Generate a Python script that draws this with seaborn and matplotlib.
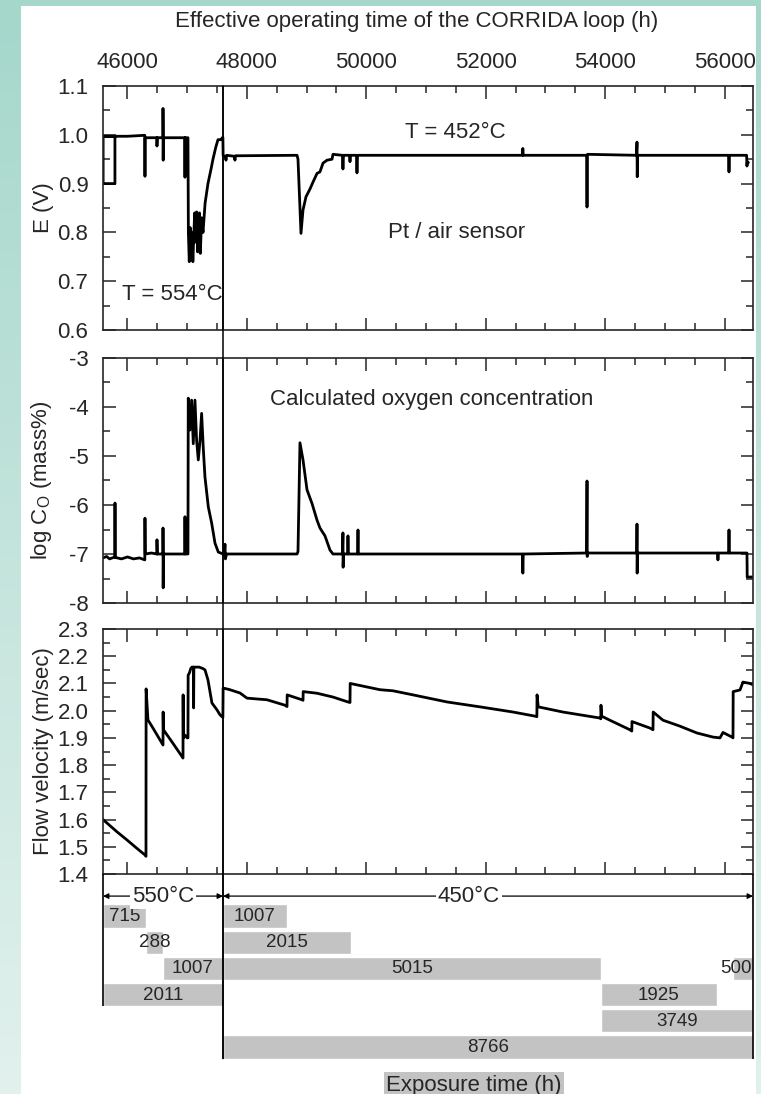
import matplotlib
matplotlib.use('Agg')
import matplotlib.pyplot as plt
import numpy as np
import seaborn as sns
from matplotlib.patches import Rectangle, ConnectionPatch
from matplotlib.colors import LinearSegmentedColormap
from matplotlib.ticker import MultipleLocator, FormatStrFormatter

# ---- data (operating time in h) ----
e_time = [45590, 45790, 45790, 45592, 45592, 45790, 46000, 46150, 46290, 46293, 46296,
          46494, 46494, 46497, 46595, 46595, 46598, 46601, 46960, 46963, 46966, 47013,
          47020, 47035, 47050, 47065, 47080, 47095, 47110, 47125, 47140, 47158, 47175,
          47190, 47205, 47220, 47242, 47265, 47300, 47348, 47400, 47432, 47480, 47516,
          47560, 47598, 47602, 47640, 47650, 47660, 47790, 47800, 47810, 48840, 48856,
          48906, 48940, 48990, 49057, 49107, 49175, 49224, 49275, 49342, 49426, 49442,
          49600, 49609, 49618, 49720, 49727, 49734, 49835, 49844, 49853, 52615, 52622,
          52629, 53690, 53697, 53704, 54525, 54534, 54538, 54545, 56070, 56075, 56080,
          56370, 56376, 56382, 56400]
e_volt = [0.997, 0.997, 0.900, 0.900, 0.997, 0.997, 0.997, 0.998, 0.999, 0.915, 0.994,
          0.994, 0.977, 0.994, 0.994, 1.054, 0.948, 0.994, 0.994, 0.913, 0.994, 0.994,
          0.800, 0.740, 0.810, 0.750, 0.800, 0.740, 0.790, 0.840, 0.780, 0.842, 0.760,
          0.800, 0.840, 0.757, 0.830, 0.800, 0.860, 0.900, 0.930, 0.950, 0.975, 0.990,
          0.990, 0.995, 0.958, 0.955, 0.948, 0.958, 0.956, 0.948, 0.957, 0.958, 0.950,
          0.798, 0.846, 0.873, 0.889, 0.903, 0.921, 0.924, 0.942, 0.948, 0.950, 0.960,
          0.958, 0.930, 0.958, 0.958, 0.945, 0.958, 0.958, 0.922, 0.958, 0.958, 0.972,
          0.958, 0.958, 0.852, 0.960, 0.958, 0.985, 0.914, 0.958, 0.958, 0.924, 0.958,
          0.958, 0.936, 0.945, 0.943]

c_time = [45590, 45650, 45700, 45788, 45791, 45795, 45900, 46000, 46100, 46200, 46290,
          46293, 46298, 46400, 46494, 46494, 46498, 46595, 46595, 46598, 46602, 46960,
          46963, 46967, 47013, 47018, 47046, 47074, 47102, 47130, 47158, 47186, 47214,
          47242, 47270, 47298, 47354, 47410, 47466, 47521, 47600, 47620, 47633, 47640,
          47660, 48840, 48856, 48889, 48940, 49007, 49091, 49175, 49224, 49308, 49392,
          49442, 49600, 49609, 49612, 49618, 49690, 49693, 49697, 49855, 49861, 49866,
          52615, 52622, 52629, 53690, 53697, 53700, 53705, 54530, 54534, 54537, 54541,
          55885, 55890, 55895, 56070, 56075, 56080, 56376, 56380, 56477]
c_log = [-7.08, -7.05, -7.10, -7.06, -5.96, -7.07, -7.10, -7.06, -7.10, -7.08, -7.12,
         -6.27, -7.00, -6.98, -7.00, -6.71, -7.00, -7.00, -6.47, -7.69, -7.00, -7.00,
         -6.24, -7.00, -7.00, -3.82, -4.47, -3.86, -4.75, -3.86, -4.68, -5.08, -4.70,
         -4.13, -4.85, -5.43, -6.04, -6.37, -6.78, -6.96, -7.00, -7.00, -6.80, -7.10,
         -7.00, -7.00, -6.95, -4.73, -5.08, -5.69, -5.97, -6.31, -6.47, -6.63, -6.92,
         -7.00, -7.00, -6.57, -7.27, -7.00, -7.00, -6.63, -7.00, -7.00, -6.51, -7.00,
         -7.00, -7.39, -7.00, -6.98, -5.51, -7.05, -6.98, -6.98, -6.39, -7.39, -6.98,
         -6.98, -7.12, -6.98, -6.98, -6.51, -6.98, -6.98, -7.47, -7.47]

v_time = [45590, 45824, 45992, 46159, 46293, 46310, 46312, 46343, 46427, 46595, 46597,
          46602, 46762, 46930, 46932, 46936, 46963, 47000, 47013, 47016, 47040, 47060,
          47080, 47105, 47108, 47112, 47200, 47260, 47298, 47348, 47415, 47499, 47549,
          47598, 47602, 47700, 47884, 48002, 48337, 48638, 48672, 48675, 48923, 48940,
          48943, 49175, 49442, 49693, 49727, 49730, 50012, 50229, 50447, 50782, 51352,
          51904, 52457, 52823, 52857, 52860, 52880, 53292, 53912, 53928, 53931, 53940,
          54079, 54414, 54447, 54450, 54752, 54802, 54805, 54969, 55254, 55538, 55806,
          55924, 55974, 56125, 56142, 56145, 56259, 56309, 56426, 56477]
v_flow = [1.600, 1.555, 1.525, 1.494, 1.470, 1.465, 2.080, 1.966, 1.936, 1.874, 1.995,
          1.930, 1.880, 1.826, 2.058, 1.900, 1.910, 1.900, 1.900, 2.130, 2.140, 2.155,
          2.160, 2.160, 2.010, 2.160, 2.160, 2.155, 2.150, 2.113, 2.028, 2.003, 1.985,
          1.975, 2.083, 2.078, 2.065, 2.046, 2.040, 2.020, 2.015, 2.058, 2.040, 2.038,
          2.070, 2.064, 2.050, 2.032, 2.030, 2.100, 2.087, 2.077, 2.073, 2.058, 2.032,
          2.014, 1.995, 1.980, 1.978, 2.058, 2.014, 1.995, 1.973, 1.970, 2.020, 1.980,
          1.965, 1.930, 1.925, 1.960, 1.936, 1.930, 1.995, 1.965, 1.943, 1.918, 1.903,
          1.900, 1.920, 1.903, 1.900, 2.070, 2.076, 2.105, 2.100, 2.095]

# exposure time bars: start, end (operating time), label, row
bar_start = [45590, 47600, 46305, 47600, 46595, 47600, 56142, 45590, 53928, 53928, 47600]
bar_end = [46305, 48672, 46595, 49740, 47600, 53928, 56477, 47600, 55874, 56477, 56477]
bar_label = ['715', '1007', '288', '2015', '1007', '5015', '500', '2011', '1925', '3749', '8766']
bar_row = [0, 0, 1, 1, 2, 2, 2, 3, 3, 4, 5]

t_min, t_max, t_switch = 45590, 56477, 47600

W, H = 761, 1094
sns.set_style('ticks')
plt.rcParams['font.family'] = ['Liberation Sans', 'DejaVu Sans']
plt.rcParams['mathtext.fontset'] = 'custom'
plt.rcParams['mathtext.rm'] = 'Liberation Sans'
plt.rcParams['axes.unicode_minus'] = False
plt.rcParams['axes.linewidth'] = 1.2

fig = plt.figure(figsize=(W / 100, H / 100), dpi=100)

# background frame
bg = fig.add_axes([0, 0, 1, 1], zorder=-10)
cmap = LinearSegmentedColormap.from_list('bg', ['#a5d7cb', '#e2f1ed'])
bg.imshow(np.linspace(0, 1, 256).reshape(-1, 1), aspect='auto', cmap=cmap,
          extent=[0, 1, 0, 1])
bg.add_patch(Rectangle((21 / W, 0), (756 - 21) / W, (H - 6) / H,
                       transform=bg.transAxes, fc='white', ec='none'))
bg.set_axis_off()


def px_axes(top, bottom):
    return fig.add_axes([103 / W, 1 - bottom / H, 650 / W, (bottom - top) / H])


ax1 = px_axes(86, 330)
ax2 = px_axes(358, 603)
ax3 = px_axes(629, 874)
ax4 = px_axes(874, 1060)

FS = 16
for ax, t, y in [(ax1, e_time, e_volt), (ax2, c_time, c_log), (ax3, v_time, v_flow)]:
    sns.lineplot(x=t, y=y, sort=False, estimator=None, color='black', lw=2.0, ax=ax)
    ax.set_xlim(t_min, t_max)
    ax.xaxis.set_major_locator(MultipleLocator(2000))
    ax.xaxis.set_minor_locator(MultipleLocator(500))
    ax.tick_params(which='both', direction='in', top=True, right=True,
                   labelbottom=False, labelsize=FS, width=1.1)
    ax.tick_params(which='major', length=9, pad=10.5)
    ax.tick_params(which='minor', length=5)
    ax.axvline(t_switch, color='black', lw=1.1)

ax1.set_ylim(0.6, 1.1)
ax1.yaxis.set_major_locator(MultipleLocator(0.1))
ax1.yaxis.set_minor_locator(MultipleLocator(0.05))
ax1.yaxis.set_major_formatter(FormatStrFormatter('%.1f'))
ax1.tick_params(axis='x', labeltop=True, pad=9.5)
ax1.xaxis.set_label_position('top')
ax1.set_xlabel('Effective operating time of the CORRIDA loop (h)', fontsize=FS)
ax1.xaxis.set_label_coords(0.483, 1.242)
ax1.set_ylabel('E (V)', fontsize=FS)

ax2.set_ylim(-8, -3)
ax2.yaxis.set_major_locator(MultipleLocator(1))
ax2.yaxis.set_minor_locator(MultipleLocator(0.5))
ax2.set_ylabel(r'log C$_\mathrm{O}$ (mass%)', fontsize=FS)

ax3.set_ylim(1.4, 2.3)
ax3.yaxis.set_major_locator(MultipleLocator(0.1))
ax3.yaxis.set_minor_locator(MultipleLocator(0.05))
ax3.yaxis.set_major_formatter(FormatStrFormatter('%.1f'))
ax3.set_ylabel('Flow velocity (m/sec)', fontsize=FS)

for ax in (ax1, ax2, ax3):
    ax.yaxis.set_label_coords(-0.075, 0.5)

ax1.text(45900, 0.672, 'T = 554°C', fontsize=FS, va='center')
ax1.text(51490, 1.004, 'T = 452°C', fontsize=FS, va='center', ha='center')
ax1.text(51520, 0.799, 'Pt / air sensor', fontsize=FS, va='center', ha='center')
ax2.text(51100, -3.857, 'Calculated oxygen concentration', fontsize=FS,
         va='center', ha='center')

# exposure time section
ax4.set_xlim(t_min, t_max)
ax4.set_ylim(5.496, -1.603)
ax4.set_axis_off()
ax4.barh(bar_row, [e - s for s, e in zip(bar_start, bar_end)], left=bar_start,
         height=0.88, color='#c3c3c3', zorder=1)
for s, e, lab, r in zip(bar_start, bar_end, bar_label, bar_row):
    if e == t_max and e - s < 600:
        # short bar at the right edge: label sits right-aligned against the edge
        ax4.text(e - 20, r + 0.02, lab, ha='right', va='center', fontsize=13.5,
                 zorder=3, clip_on=False)
    else:
        ax4.text((s + e) / 2, r + 0.02, lab, ha='center', va='center', fontsize=13.5,
                 zorder=3, clip_on=False)
ax4.vlines(t_min, -1.603, 3.44, color='black', lw=1.2, clip_on=False)
ax4.vlines(t_max, -1.603, 5.44, color='black', lw=1.2, clip_on=False)
ax4.vlines(t_switch, -1.603, 5.44, color='black', lw=1.1, clip_on=False)

r_arrow = -0.76
arrow = dict(arrowstyle='-|>', lw=0.9, color='black', mutation_scale=8,
             shrinkA=0, shrinkB=0)
for a, b, lab, mid in [(t_min, t_switch, '550°C', 46595), (t_switch, t_max, '450°C', 51720)]:
    ax4.annotate('', xy=(a, r_arrow), xytext=(mid, r_arrow), arrowprops=arrow)
    ax4.annotate('', xy=(b, r_arrow), xytext=(mid, r_arrow), arrowprops=arrow)
    ax4.text(mid, r_arrow, lab, ha='center', va='center', fontsize=FS,
             bbox=dict(fc='white', ec='none', pad=1.5), zorder=4)

# connect the 550/450 change line through the gaps
con = ConnectionPatch(xyA=(t_switch, 1.1), coordsA='data', axesA=ax1,
                      xyB=(t_switch, 5.44), coordsB='data', axesB=ax4,
                      color='black', lw=1.1)
fig.add_artist(con)

fig.text(474 / W, 1 - 1085 / H, 'Exposure time (h)', ha='center', va='center',
         fontsize=FS, bbox=dict(fc='#c3c3c3', ec='none', pad=2))

fig.savefig('out.png', dpi=100)
